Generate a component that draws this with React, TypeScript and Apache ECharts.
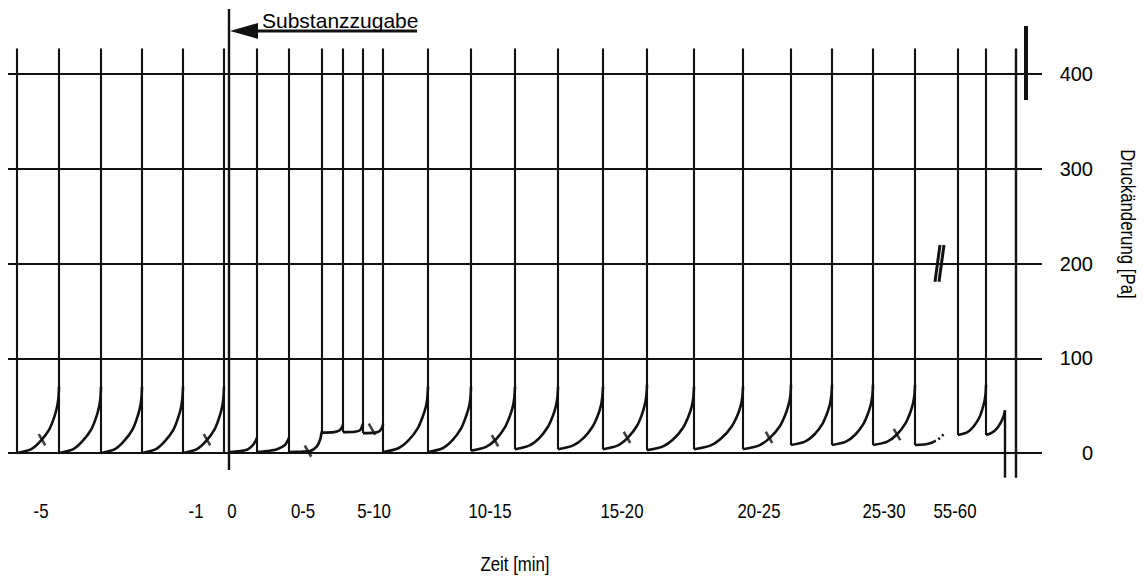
import React, { useEffect, useRef } from "react";
import * as echarts from "echarts";

const FONT = '"Liberation Sans", Arial, Helvetica, sans-serif';
const INK = "#111";
// Axis captions and time labels are set in a narrow cut of the face
const NARROW = 0.84;

// Pressure axis (Pa)
const Y_TICKS = [0, 100, 200, 300, 400];
const Y_MIN = -60;
const Y_MAX = 470;

// Schematic time axis: positions of the interval labels
const X_MIN = 8;
const X_MAX = 1042;
const TIME_LABEL_POS = [41, 196, 232, 303, 374, 490, 622, 759, 884, 955];
const TIME_LABEL_TEXT = ["-5", "-1", "0", "0-5", "5-10", "10-15", "15-20", "20-25", "25-30", "55-60"];

// Pressure release spikes: [position, floor value]; all rise to SPIKE_TOP
const SPIKE_TOP = 427;
const SPIKES: [number, number][] = [
  [17, 0], [59, 0], [101, 0], [142, 0], [183, 0], [224, 0],
  [257, 0], [289, 0], [322, 21.5], [343, 22], [363, 21], [383, 0],
  [428, 1], [471, 2.5], [515, 4], [558, 4], [603, 4], [647, 3],
  [694, 4], [743, 4], [791, 8.5], [832, 8.5], [873, 8.5], [915, 8.4],
  [958, 19], [986, 19],
];

// Pressure build-up before dosing
const BEFORE_CURVES: number[][][] = [
  [[17, 0], [31.3, 4], [40.9, 13], [49.3, 25], [54, 37], [56.9, 48], [58.4, 58], [59, 70]],
  [[59, 0], [73.3, 4], [82.9, 13], [91.3, 25], [96, 37], [98.9, 48], [100.4, 58], [101, 70]],
  [[101, 0], [114.9, 4], [124.4, 13], [132.6, 25], [137.1, 37], [140, 48], [141.4, 58], [142, 70]],
  [[142, 0], [155.9, 4], [165.4, 13], [173.6, 25], [178.1, 37], [181, 48], [182.4, 58], [183, 70]],
  [[183, 0], [196.9, 4], [206.4, 13], [214.6, 25], [219.1, 37], [222, 48], [223.4, 58], [224, 70]],
];

// Inhibited phase directly after dosing (0-10 min)
const DOSING_CURVES: number[][][] = [
  [[230, 1], [247, 3.5], [252.7, 8], [256, 13.7], [257, 16]],
  [[257, 1], [267, 2], [277, 4], [285, 8.5], [288, 13.7], [289, 16]],
  [[289, 1], [302, 1.5], [310, 2], [316.7, 6.7], [320, 13.7], [321.5, 21], [322, 23]],
  [[322, 21.5], [334, 22], [339, 23.5], [342, 27], [343, 30]],
  [[343, 22], [355, 22.5], [360, 24], [362, 28], [363, 31]],
  [[363, 21], [375, 21.5], [380, 23.5], [382.5, 28], [383, 31]],
];

// Recovery phase (10-30 min and 55-60 min)
const RECOVERY_CURVES: number[][][] = [
  [[383, 1], [398.3, 5], [408.7, 13.5], [417.7, 26], [422.6, 38], [425.8, 48.5], [427.3, 58], [428, 70]],
  [[428, 1], [442.6, 5], [452.5, 13.5], [461.1, 26], [465.8, 38], [468.9, 48.5], [470.4, 58], [471, 70]],
  [[471, 2.5], [486, 6.5], [496.1, 14.5], [504.9, 27], [509.7, 38.5], [512.8, 49], [514.3, 58.5], [515, 70]],
  [[515, 4], [529.6, 8], [539.5, 16], [548.1, 28], [552.8, 39], [555.9, 49.5], [557.4, 59], [558, 70]],
  [[558, 4], [573.3, 8], [583.7, 16], [592.7, 28], [597.6, 39], [600.8, 49.5], [602.3, 59], [603, 70]],
  [[603, 4], [618, 8], [628.1, 16.5], [636.9, 28.5], [641.7, 40], [644.8, 51], [646.3, 60], [647, 72]],
  [[647, 3], [663, 7], [673.8, 15], [683.2, 27], [688.4, 38.5], [691.7, 49], [693.3, 58.5], [694, 70]],
  [[694, 4], [710.7, 8], [721.9, 16], [731.7, 28], [737.1, 39], [740.6, 49.5], [742.3, 59], [743, 70]],
  [[743, 4], [759.3, 8], [770.4, 16.5], [780, 28.5], [785.2, 40], [788.6, 51], [790.3, 60], [791, 72]],
  [[791, 8.5], [804.9, 12], [814.4, 19.5], [822.6, 31], [827.1, 42], [830, 52], [831.4, 61], [832, 72]],
  [[832, 8.5], [845.9, 12], [855.4, 19.5], [863.6, 31], [868.1, 42], [871, 52], [872.4, 61], [873, 72]],
  [[873, 8.5], [887.3, 12], [896.9, 19.5], [905.3, 31], [910, 42], [912.9, 52], [914.4, 61], [915, 72]],
  [[958, 19], [967.5, 22], [974, 28.5], [979.6, 38], [982.6, 47], [984.6, 55.5], [985.6, 63], [986, 72]],
  [[986, 19], [992, 21.5], [997, 26], [1001, 32.5], [1003.5, 38.5], [1005, 45]],
];

// Last recorded cycle before the time break (solid, then trailing off)
const TRAIL_SOLID = [[915, 8.4], [924, 9], [930, 10.2], [934, 12]];
const TRAIL_DOTTED = [[934, 12], [937, 13.5], [940, 16], [944, 20]];

// Five-minute marks on the curves
const MINUTE_MARKS = [[42, 14], [207, 14], [308, 2], [372, 25], [495, 13], [627, 16.5], [769, 16.5], [897, 19.5]];

// Dosing marker, end-of-record lines and the time break
const DOSING_X = 229;
const DOSING_RANGE = [-18, 468.6];
const END_DROP = [1005, 45, -26];
const END_LINE = [1016, SPIKE_TOP, -26];
const END_BAR = [1026, 372.6, 450.7];
const BREAK_MARKS = [
  [[940, 219.5], [935, 180.8]],
  [[944, 219.5], [939, 180.8]],
];

// "Substanzzugabe" arrow
const ARROW_LEVEL = 445.4;
const ARROW_TAIL = 417;
const ARROW_TIP = DOSING_X + 1;
const ARROW_HEAD_LEN = 28;
const ARROW_HEAD_HALF = 8.4;

const curveSeries = (data: number[][], dash?: number[]) => ({
  type: "line",
  data,
  symbol: "none",
  smooth: 0.3,
  lineStyle: { color: INK, width: 2.6, type: dash || "solid" },
  silent: true,
  z: 3,
});

const segSeries = (segs: number[][][], width: number) => ({
  type: "lines",
  coordinateSystem: "cartesian2d",
  data: segs.map((c) => ({ coords: c })),
  symbol: "none",
  lineStyle: { color: INK, width, opacity: 1 },
  silent: true,
  z: 2,
});

export default function App() {
  const ref = useRef<HTMLDivElement>(null);

  useEffect(() => {
    const chart = echarts.init(ref.current!, null, { renderer: "svg" });

    const gridLines = Y_TICKS.map((v) => [[X_MIN, v], [X_MAX, v]]);
    const spikeSegs = SPIKES.map(([x, floor]) => [[x, floor], [x, SPIKE_TOP]]);
    const endSegs = [
      [[END_DROP[0], END_DROP[1]], [END_DROP[0], END_DROP[2]]],
      [[END_LINE[0], END_LINE[1]], [END_LINE[0], END_LINE[2]]],
    ];

    const series: any[] = [
      segSeries(gridLines, 2),
      segSeries(spikeSegs, 2.1),
      segSeries([[[DOSING_X, DOSING_RANGE[0]], [DOSING_X, DOSING_RANGE[1]]]], 2.4),
      segSeries(endSegs, 2.4),
      segSeries([[[END_BAR[0], END_BAR[1]], [END_BAR[0], END_BAR[2]]]], 4),
      segSeries(BREAK_MARKS, 3),
      ...BEFORE_CURVES.map((c) => curveSeries(c)),
      ...DOSING_CURVES.map((c) => curveSeries(c)),
      ...RECOVERY_CURVES.map((c) => curveSeries(c)),
      curveSeries(TRAIL_SOLID),
      curveSeries(TRAIL_DOTTED, [2, 3]),
      {
        type: "scatter",
        data: MINUTE_MARKS,
        symbol: "rect",
        symbolSize: [2.6, 13],
        symbolRotate: 30,
        itemStyle: { color: INK },
        silent: true,
        z: 4,
      },
    ];

    chart.setOption({
      animation: false,
      backgroundColor: "#fff",
      textStyle: { fontFamily: FONT },
      grid: {
        left: 8,
        right: 103,
        top: 453 - Y_MAX * 0.9475,
        bottom: 579 - (453 - Y_MIN * 0.9475),
      },
      xAxis: {
        type: "value",
        min: X_MIN,
        max: X_MAX,
        axisLine: { show: false },
        axisTick: { show: false },
        splitLine: { show: false },
        axisLabel: { show: false },
      },
      yAxis: {
        type: "value",
        position: "right",
        min: Y_MIN,
        max: Y_MAX,
        axisLine: { show: false },
        axisTick: { show: false },
        splitLine: { show: false },
        axisLabel: {
          customValues: Y_TICKS,
          color: "#000",
          fontSize: 20,
          fontFamily: FONT,
          align: "right",
          margin: 51,
        },
      },
      series,
    });

    const px = (x: number, v: number) =>
      chart.convertToPixel({ xAxisIndex: 0, yAxisIndex: 0 }, [x, v]) as number[];
    const tail = px(ARROW_TAIL, ARROW_LEVEL);
    const neck = px(ARROW_TIP + ARROW_HEAD_LEN - 4, ARROW_LEVEL);
    const tip = px(ARROW_TIP, ARROW_LEVEL);
    const b1 = px(ARROW_TIP + ARROW_HEAD_LEN, ARROW_LEVEL + ARROW_HEAD_HALF);
    const b2 = px(ARROW_TIP + ARROW_HEAD_LEN, ARROW_LEVEL - ARROW_HEAD_HALF);
    const labelY = px(X_MIN, Y_MIN)[1] + 1;

    const narrowText = (text: string, x: number, y: number, extra: any = {}) => ({
      type: "text",
      x,
      y,
      scaleX: NARROW,
      z: 10,
      ...extra,
      style: {
        text,
        fill: "#000",
        fontSize: 20,
        fontFamily: FONT,
        align: "center",
        verticalAlign: "middle",
      },
    });

    chart.setOption({
      graphic: [
        {
          type: "line",
          shape: { x1: tail[0], y1: tail[1], x2: neck[0], y2: neck[1] },
          style: { stroke: INK, lineWidth: 3 },
          z: 10,
        },
        {
          type: "polygon",
          shape: { points: [tip, b1, b2] },
          style: { fill: INK },
          z: 10,
        },
        {
          type: "text",
          x: 262,
          y: 20,
          style: {
            text: "Substanzzugabe",
            fill: "#000",
            fontSize: 21,
            fontFamily: FONT,
            align: "left",
            verticalAlign: "middle",
          },
          z: 10,
        },
        ...TIME_LABEL_POS.map((p, i) => narrowText(TIME_LABEL_TEXT[i], px(p, 0)[0], labelY)),
        narrowText("Druckänderung [Pa]", 1128, 224, { rotation: -Math.PI / 2 }),
        narrowText("Zeit [min]", 515, 564),
      ],
    });

    return () => chart.dispose();
  }, []);

  return (
    <div
      ref={ref}
      style={{ position: "absolute", left: 0, top: 0, width: 1145, height: 579, background: "#fff" }}
    />
  );
}
